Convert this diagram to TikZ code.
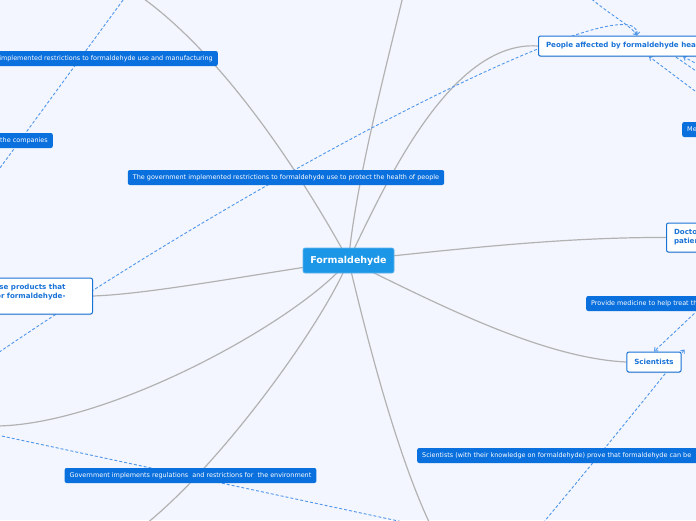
\documentclass[tikz,border=0pt]{standalone}
\usepackage{fontspec}
\setmainfont{DejaVu Sans}
\usetikzlibrary{positioning,calc,arrows.meta,backgrounds,shadows}
\definecolor{MapBg}{RGB}{243,246,254}
\definecolor{HubBlue}{RGB}{28,150,230}
\definecolor{NoteBlue}{RGB}{10,112,222}
\definecolor{EdgeBlue}{RGB}{25,115,215}
\definecolor{BranchGray}{RGB}{178,178,178}
\definecolor{RelBlue}{RGB}{80,150,235}
\tikzset{
  hub/.style={fill=HubBlue,draw=HubBlue!70!white,line width=0.6pt,rounded corners=2pt,text=white,
    font=\fontsize{9.5}{11}\selectfont\bfseries,minimum width=91pt,minimum height=25pt,inner sep=0pt},
  topic/.style={fill=white,draw=EdgeBlue,line width=1pt,rounded corners=2pt,text=EdgeBlue,
    font=\fontsize{7.1}{9}\selectfont\bfseries,minimum height=20pt,inner xsep=7.5pt,inner ysep=0pt,
    drop shadow={opacity=0.25,shadow xshift=0pt,shadow yshift=-1pt}},
  note/.style={fill=NoteBlue,rounded corners=2pt,text=white,font=\fontsize{6.45}{7.5}\selectfont,
    minimum height=15pt,inner xsep=5pt,inner ysep=0pt},
}
\tikzset{branch/.style={draw=BranchGray,line width=1.2pt}, rel/.style={draw=RelBlue,line width=0.9pt,dash pattern=on 3pt off 2pt}, arr/.style={-{Straight Barb[length=3pt,width=5pt]}}}

\begin{document}
\begin{tikzpicture}[x=1pt,y=-1pt]
\useasboundingbox (0,0) rectangle (696,520);
\begin{scope}[on background layer]\fill[MapBg](0,0)rectangle(696,520);\end{scope}
% topics
\node[hub] (hub) at (348.5,260.5) {Formaldehyde};
\node[topic,anchor=west] (people) at (538,46) {\makebox[170pt][l]{People affected by formaldehyde health}};
\node[topic,anchor=west,minimum height=29pt] (doctors) at (666,237.5) {\parbox{60pt}{\baselineskip=9pt Doctors\\patients}};
\node[topic] (scientists) at (654,362) {Scientists};
\node[topic,anchor=east,minimum height=36pt,inner xsep=0pt] (buyers) at (93,296) {\parbox{180pt}{\raggedleft\baselineskip=9pt People purchase products that\\are safe or formaldehyde-\\\mbox{}}\kern27pt};
% notes
\node[note,anchor=east] (manufacture) at (218,58.5) {\makebox[230pt][r]{implemented restrictions to formaldehyde use and manufacturing}};
\node[note,anchor=east] (companies) at (53,140.5) {\makebox[80pt][r]{the companies}};
\node[note] (health) at (286,177.5) {The government implemented restrictions to formaldehyde use to protect the health of people};
\node[note,anchor=west] (medicine) at (682,129.5) {\makebox[40pt][l]{Me}};
\node[note,anchor=west] (provide) at (586,303.5) {\makebox[150pt][l]{Provide medicine to help treat the}};
\node[note] (environment) at (190.5,475.5) {Government implements regulations~ and restrictions for~ the environment};
\node[note,anchor=west] (proof) at (417,455.5) {\makebox[320pt][l]{Scientists (with their knowledge on formaldehyde) prove that formaldehyde can be}};
% off-screen ends
\coordinate (ulEnd) at (140,-4); \coordinate (upEnd) at (403,-4); \coordinate (dnEnd) at (430,524);
\coordinate (dlEnd) at (146,524); \coordinate (lfEnd) at (-4,426);
\coordinate (relA) at (126,-4); \coordinate (relB) at (-3,172); \coordinate (relC) at (-5,355);
\coordinate (relD) at (588,-4); \coordinate (relE) at (699,94); \coordinate (relF) at (699,73);
\coordinate (relG) at (699,65); \coordinate (relH) at (698,310); \coordinate (relI) at (543,523);
\coordinate (relJ) at (-3,435); \coordinate (relK) at (403,522);
\begin{scope}[on background layer]
\foreach \e/\ax/\ay/\bx/\by in {ulEnd/310/190/230/60, upEnd/356/180/388/60, people.west/385/185/450/40,
  doctors.west/450/250/560/237, scientists.west/430/300/540/358, dnEnd/365/330/395/450,
  dlEnd/325/320/225/460, lfEnd/300/320/110/425, buyers.east/250/275/150/294}
  \draw[branch] (hub.center) .. controls (\ax,\ay) and (\bx,\by) .. (\e);
% relations
\draw[rel] (relA) -- (relB);
\draw[rel,arr] (relC) .. controls (280,160) and (640,-20) .. ([xshift=99pt]people.north west);
\draw[rel,arr] (relD) .. controls (610,15) and (630,25) .. ([xshift=99pt]people.north west);
\draw[rel,arr] (relE) -- ([xshift=111pt]people.south west);
\draw[rel] (relF) -- ([xshift=137pt]people.south west);
\draw[rel,arr] (relG) -- ([xshift=145pt]people.south west);
\draw[rel,arr] (relH) -- (scientists.north);
\draw[rel,arr] (relI) .. controls (600,455) and (660,380) .. ([shift={(3pt,2pt)}]scientists.north east);
\draw[rel] (relJ) -- (relK);
\end{scope}
\end{tikzpicture}
\end{document}
